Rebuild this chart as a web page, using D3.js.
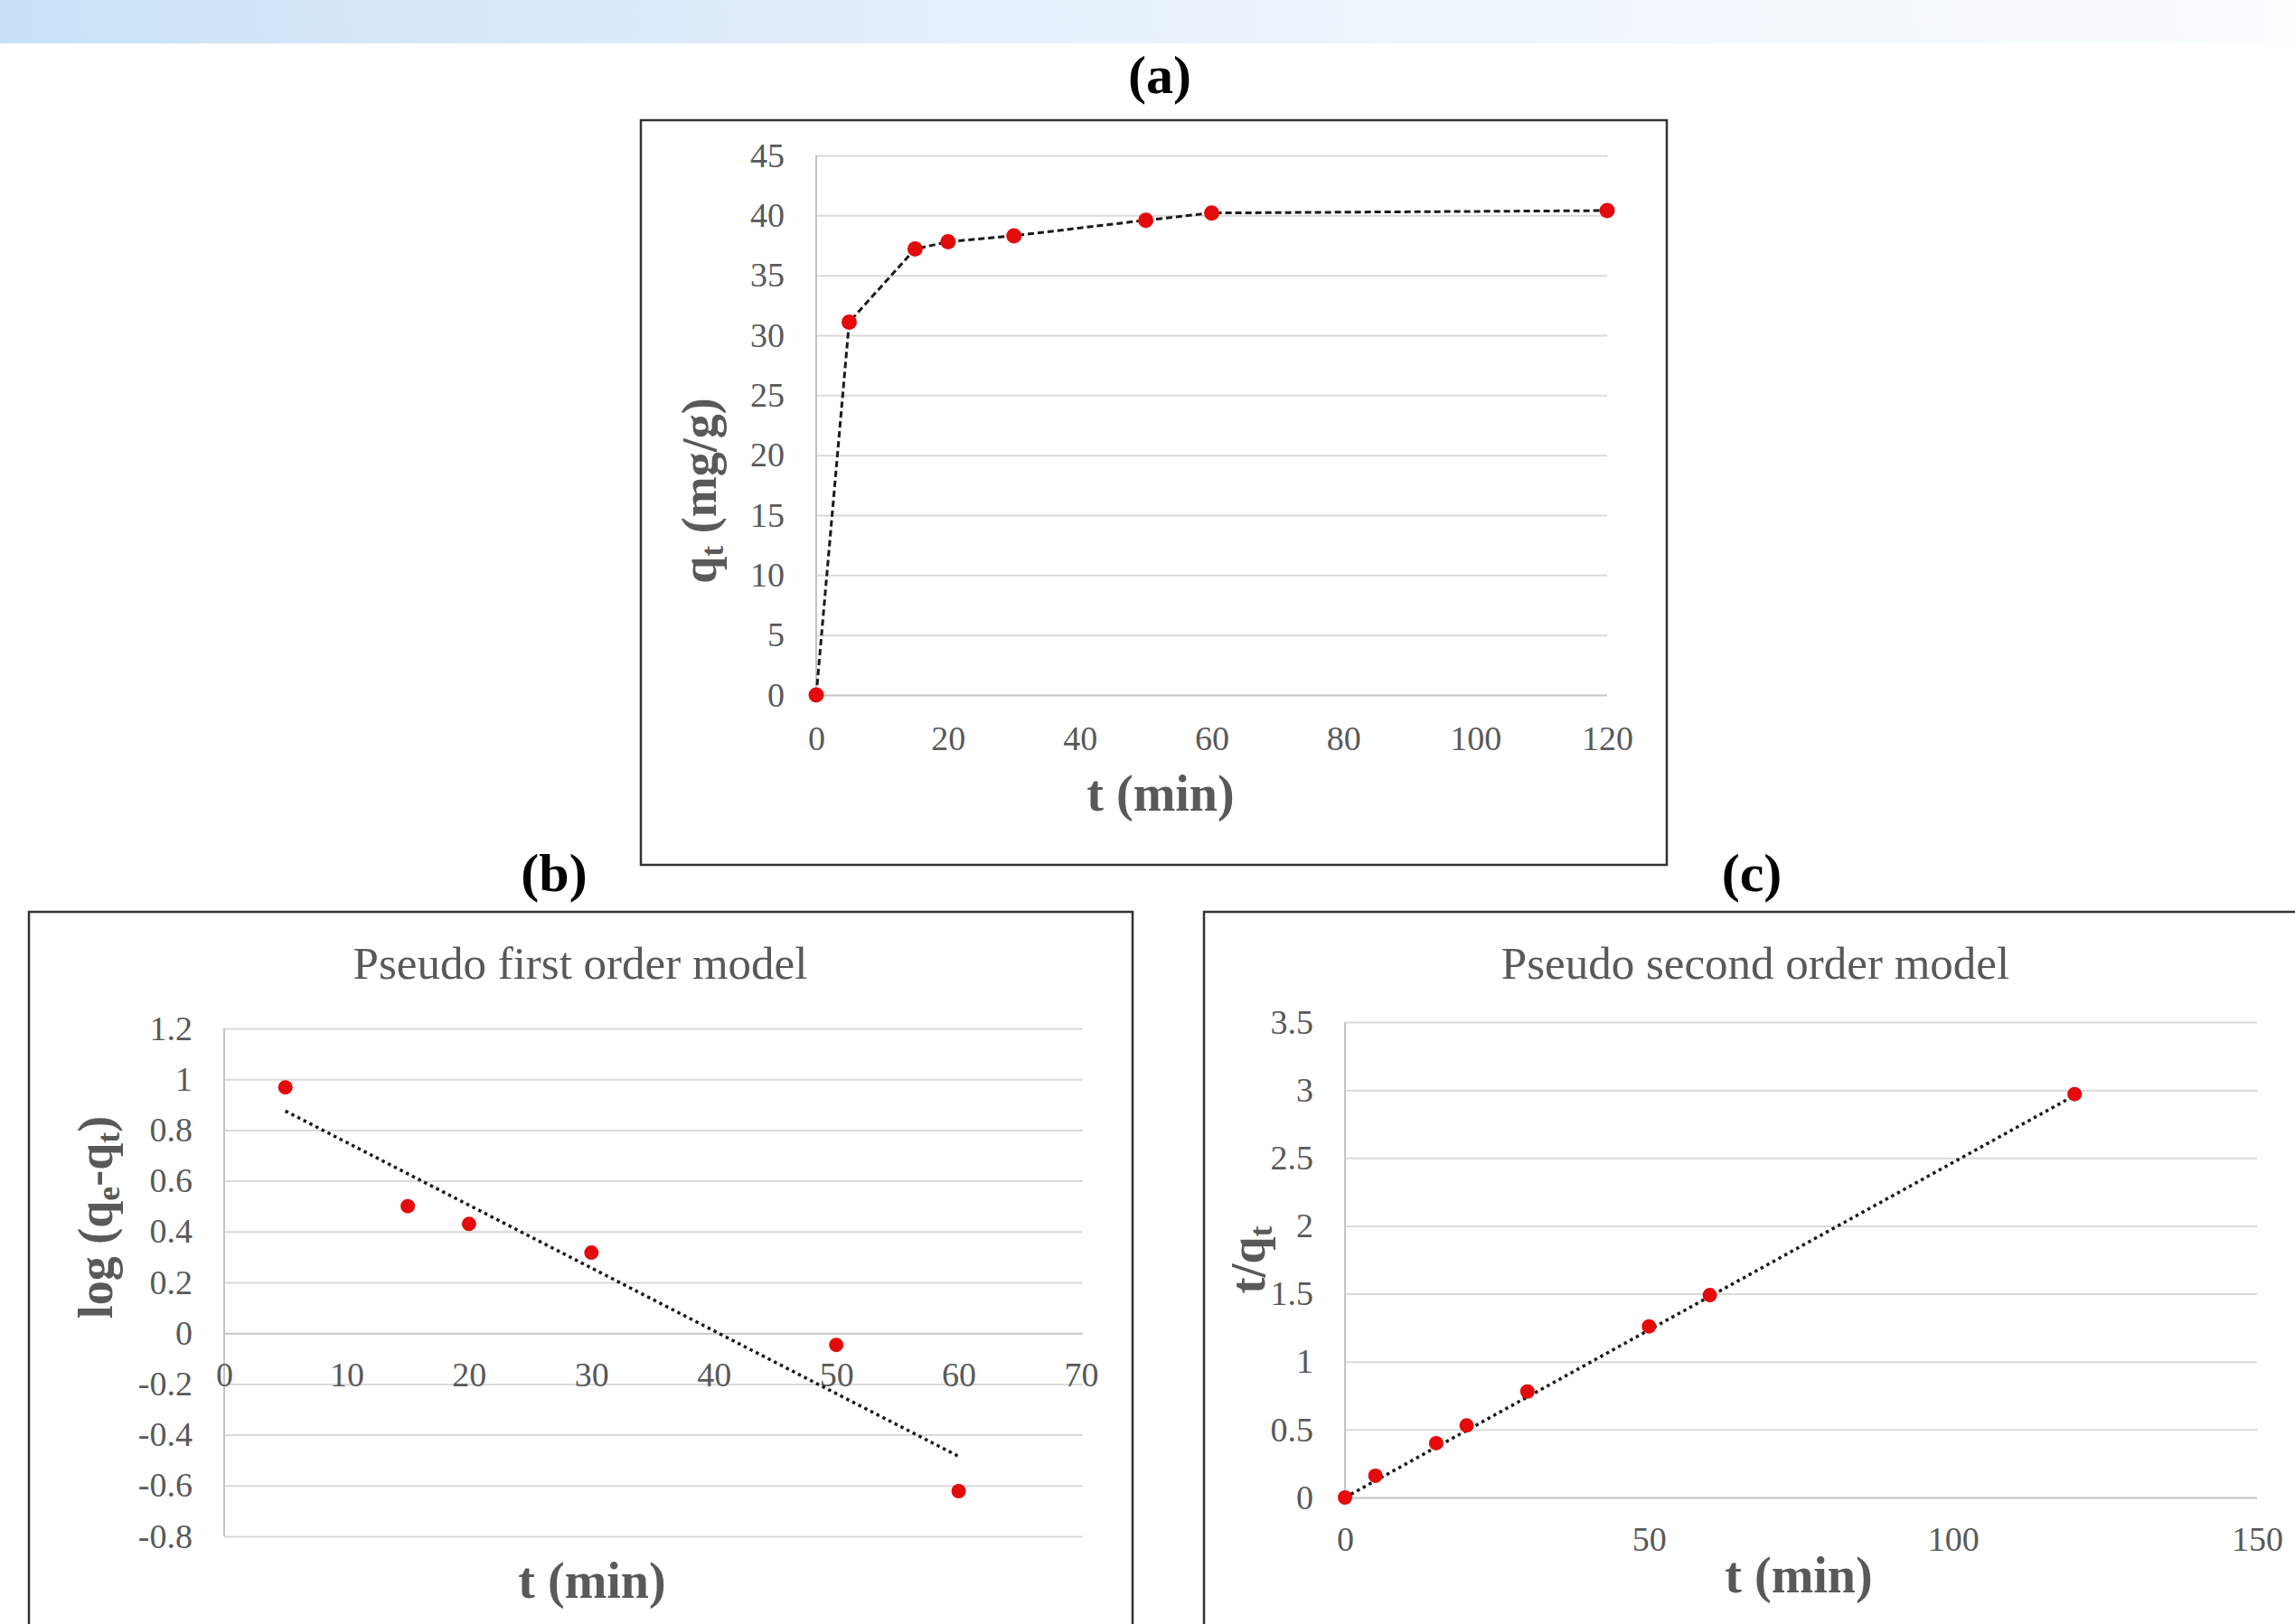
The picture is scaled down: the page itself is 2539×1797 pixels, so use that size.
<!DOCTYPE html>
<html>
<head>
<meta charset="utf-8">
<script src="https://cdn.jsdelivr.net/npm/d3@7"></script>
<style>
  body { margin: 0; background: #fff; }
  svg { display: block; }
  text { font-family: "Times New Roman", "Liberation Serif", serif; }
</style>
</head>
<body>
<div id="chart"></div>
<script>
// (a) kinetics data
const timeA = [0, 5, 15, 20, 30, 50, 60, 120];
const qtA = [0, 31.1, 37.2, 37.8, 38.3, 39.6, 40.2, 40.4];
const xTicksA = [0, 20, 40, 60, 80, 100, 120];
const yTicksA = [0, 5, 10, 15, 20, 25, 30, 35, 40, 45];

// (b) pseudo first order
const timeB = [5, 15, 20, 30, 50, 60];
const logB = [0.968, 0.50, 0.43, 0.317, -0.046, -0.622];
const trendBx = [5, 60];
const trendBy = [0.875, -0.485];
const xTicksB = [0, 10, 20, 30, 40, 50, 60, 70];
const yTicksB = [-0.8, -0.6, -0.4, -0.2, 0, 0.2, 0.4, 0.6, 0.8, 1, 1.2];

// (c) pseudo second order
const timeC = [0, 5, 15, 20, 30, 50, 60, 120];
const tqC = [0, 0.16, 0.40, 0.53, 0.78, 1.26, 1.49, 2.97];
const trendCx = [0, 120];
const trendCy = [0.0, 2.96];
const xTicksC = [0, 50, 100, 150];
const yTicksC = [0, 0.5, 1, 1.5, 2, 2.5, 3, 3.5];

const W = 2539, H = 1797;
const grey = "#595959";

const svg = d3.select("#chart").append("svg").attr("width", W).attr("height", H);

// top banner
const grad = svg.append("defs").append("linearGradient").attr("id", "banner");
grad.append("stop").attr("offset", "0%").attr("stop-color", "#c9e1f7");
grad.append("stop").attr("offset", "45%").attr("stop-color", "#e7f1fb");
grad.append("stop").attr("offset", "100%").attr("stop-color", "#fbfdff");
svg.append("rect").attr("x", 0).attr("y", 0).attr("width", W).attr("height", 48).attr("fill", "url(#banner)");

// panel frames
svg.append("rect").attr("x", 709).attr("y", 133).attr("width", 1135).attr("height", 824)
    .attr("fill", "none").attr("stroke", "#333").attr("stroke-width", 2.5);
svg.append("rect").attr("x", 32).attr("y", 1009).attr("width", 1221).attr("height", 820)
    .attr("fill", "none").attr("stroke", "#333").attr("stroke-width", 2.5);
svg.append("rect").attr("x", 1332).attr("y", 1009).attr("width", 1240).attr("height", 820)
    .attr("fill", "none").attr("stroke", "#333").attr("stroke-width", 2.5);

// panel letters
[["(a)", 1283, 103], ["(b)", 613, 986], ["(c)", 1938, 986]].forEach(([t, x, y]) => {
    svg.append("text").attr("x", x).attr("y", y).attr("text-anchor", "middle")
        .style("font-size", "60px").style("font-weight", "bold").attr("fill", "#000").text(t);
});

function drawPanel(p) {
    const x = d3.scaleLinear().domain(p.xDomain).range(p.xRange);
    const y = d3.scaleLinear().domain(p.yDomain).range(p.yRange);
    const g = svg.append("g");

    // gridlines + y labels
    const yAxis = g.append("g").attr("transform", `translate(${p.xRange[0]},0)`)
        .call(d3.axisLeft(y).tickValues(p.yTicks).tickSize(-(p.gridRight - p.xRange[0]))
            .tickPadding(35).tickFormat(d => String(d)));
    yAxis.select(".domain").remove();
    yAxis.selectAll(".tick line").attr("stroke", d => d === 0 ? "#c4c4c4" : "#dadada").attr("stroke-width", 2);
    yAxis.selectAll(".tick text").attr("fill", grey).style("font-size", "38px");

    // vertical axis line
    g.append("line").attr("x1", p.xRange[0]).attr("x2", p.xRange[0])
        .attr("y1", y(p.yDomain[0])).attr("y2", y(p.yDomain[1]))
        .attr("stroke", "#c4c4c4").attr("stroke-width", 2);

    // x labels
    const xAxis = g.append("g").attr("transform", `translate(0,${y(0)})`)
        .call(d3.axisBottom(x).tickValues(p.xTicks).tickSize(0).tickPadding(p.xPad).tickFormat(d => String(d)));
    xAxis.select(".domain").remove();
    xAxis.selectAll(".tick text").attr("dy", "0.35em").attr("fill", grey).style("font-size", "38px");

    // line
    if (p.lx) {
        const line = d3.line().x(d => x(d[0])).y(d => y(d[1]));
        g.append("path").datum(d3.zip(p.lx, p.ly))
            .attr("fill", "none").attr("stroke", "#1a1a1a")
            .attr("stroke-width", p.dotted ? 3.5 : 3)
            .attr("stroke-dasharray", p.dotted ? "3.5,4" : "7,4")
            .attr("d", line);
    }

    // markers
    g.selectAll("circle").data(d3.zip(p.px, p.py)).enter().append("circle")
        .attr("cx", d => x(d[0])).attr("cy", d => y(d[1])).attr("r", p.r)
        .attr("fill", "#e30b0b");

    // title
    if (p.title) {
        g.append("text").attr("x", p.titleX).attr("y", 1083).attr("text-anchor", "middle")
            .attr("fill", grey).style("font-size", "51px").text(p.title);
    }

    // x axis title
    g.append("text").attr("x", p.xtX).attr("y", p.xtY).attr("text-anchor", "middle")
        .attr("fill", grey).style("font-size", "56px").style("font-weight", "bold").text("t (min)");

    // y axis title (rotated)
    const yt = g.append("text").attr("transform", `translate(${p.ytX},${p.ytY}) rotate(-90)`)
        .attr("text-anchor", "middle").attr("fill", grey)
        .style("font-size", "54px").style("font-weight", "bold");
    p.yTitle.forEach(([s, sub]) => {
        const ts = yt.append("tspan").text(s);
        if (sub) ts.attr("baseline-shift", "-22%").style("font-size", "36px");
    });
}

drawPanel({
    xDomain: [0, 120], xRange: [903, 1778], yDomain: [0, 45], yRange: [769, 172], gridRight: 1778,
    xTicks: xTicksA, yTicks: yTicksA, xPad: 48,
    px: timeA, py: qtA, lx: timeA, ly: qtA, dotted: false, r: 8.5,
    xtX: 1284, xtY: 897, ytX: 792, ytY: 543,
    yTitle: [["q"], ["t", true], [" (mg/g)"]]
});

drawPanel({
    xDomain: [0, 70], xRange: [248, 1196], yDomain: [-0.8, 1.2], yRange: [1700, 1138], gridRight: 1198,
    xTicks: xTicksB, yTicks: yTicksB, xPad: 46,
    px: timeB, py: logB, lx: trendBx, ly: trendBy, dotted: true, r: 8,
    title: "Pseudo first order model", titleX: 642,
    xtX: 655, xtY: 1768, ytX: 124, ytY: 1347,
    yTitle: [["log (q"], ["e", true], ["-q"], ["t", true], [")"]]
});

drawPanel({
    xDomain: [0, 150], xRange: [1488, 2497], yDomain: [0, 3.5], yRange: [1657, 1131], gridRight: 2497,
    xTicks: xTicksC, yTicks: yTicksC, xPad: 46,
    px: timeC, py: tqC, lx: trendCx, ly: trendCy, dotted: true, r: 8,
    title: "Pseudo second order model", titleX: 1942,
    xtX: 1990, xtY: 1762, ytX: 1399, ytY: 1394,
    yTitle: [["t/q"], ["t", true]]
});
</script>
</body>
</html>
